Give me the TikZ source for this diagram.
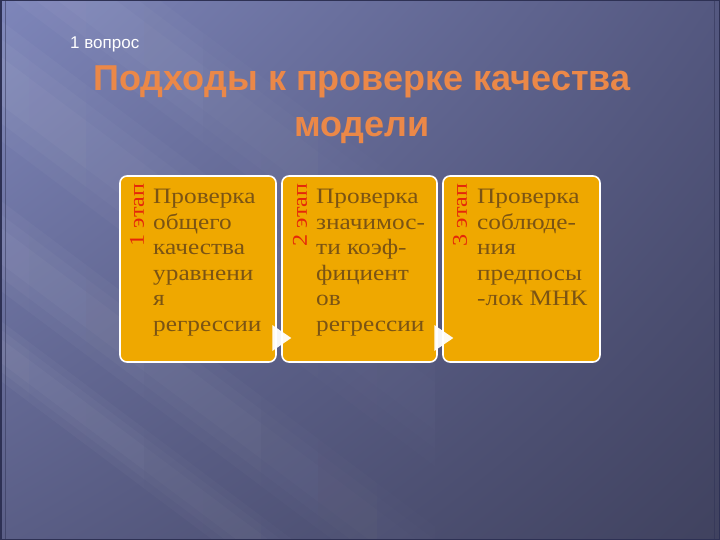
\documentclass[tikz,border=0pt]{standalone}
\usepackage{fontspec}
\setmainfont{Liberation Serif}
\newfontfamily\boxfont[FakeStretch=1.15]{Liberation Serif}
\newfontfamily\titlefont{Liberation Sans}
\usetikzlibrary{calc,fadings,shadings}
\tikzfading[name=fadeoutright, left color=transparent!0, right color=transparent!100]
\definecolor{bgUL}{HTML}{7E86BA}
\definecolor{bgUR}{HTML}{545880}
\definecolor{bgLL}{HTML}{5A5E86}
\definecolor{bgLR}{HTML}{40425F}
\definecolor{boxfill}{HTML}{EFA800}
\definecolor{textbrown}{HTML}{7B5414}
\definecolor{labelred}{HTML}{E5260A}
\definecolor{titleorange}{HTML}{EB8848}
\definecolor{frameline}{HTML}{2E3154}
\tikzset{
  stagebox/.style={draw=white, line width=1.6pt, fill=boxfill, rounded corners=7pt,
    minimum height=186pt, inner sep=0pt},
  stagelabel/.style={rotate=90, text=labelred, inner sep=0pt,
    font=\boxfont\fontsize{21}{21}\selectfont},
  stagetext/.style={anchor=north west, align=left, text=textbrown, inner sep=0pt,
    font=\boxfont\fontsize{22}{25.5}\selectfont},
  nextarrow/.style={fill=white, fill opacity=0.95, draw=none},
  titletext/.style={anchor=north, align=center, inner sep=0pt,
    font=\titlefont\bfseries\fontsize{36}{46}\selectfont},
  beam/.style={fill=white, fill opacity=0.035, path fading=fadeoutright}
}
% soft diagonal beam: start y on left edge, width, slope 0.75
\newcommand\softbeam[2]{%
  \foreach \w in {0.4,0.7,1.0}{%
    \fill[beam] (0,{#1+#2*(1-\w)/2}) -- (0,{#1+#2*(1+\w)/2})
      -- ++(520,390) -- ++(0,{-#2*\w}) -- cycle;
  }%
}
\begin{document}
\begin{tikzpicture}[x=1pt,y=-1pt]
\useasboundingbox (0,0) rectangle (720,540);
% background
\shade[upper left=bgUL, upper right=bgUR, lower left=bgLL, lower right=bgLR]
  (0,0) rectangle (720,540);
\begin{scope}
\clip (0,0) rectangle (720,540);
\softbeam{-120}{110}
\softbeam{20}{120}
\softbeam{200}{90}
\softbeam{320}{60}
\end{scope}
\draw[frameline, line width=1.5pt] (0.75,0.75) rectangle (719.25,539.25);
\draw[frameline, opacity=0.5, line width=0.8pt] (5,0) -- (5,540) (714,0) -- (714,540);

% header
\node[anchor=base west, inner sep=0pt, text=white,
  font=\titlefont\fontsize{17}{20}\selectfont] (question) at (70,49) {1 вопрос};
\node[titletext, text=titleorange] (title) at (362,66)
  {Подходы к проверке качества\\модели};

% stage boxes
\node[stagebox, minimum width=156pt] (box1) at (198,269) {};
\node[stagebox, minimum width=155pt] (box2) at (359.5,269) {};
\node[stagebox, minimum width=157pt] (box3) at (521.5,269) {};

\node[stagelabel] (lab1) at (137,215) {1 этап};
\node[stagelabel] (lab2) at (300,215) {2 этап};
\node[stagelabel] (lab3) at (460,215) {3 этап};

\node[stagetext] (txt1) at (153,189)
  {Проверка\\общего\\качества\\уравнени\\я\\регрессии};
\node[stagetext] (txt2) at (316,189)
  {Проверка\\значимос-\\ти коэф-\\фициент\\ов\\регрессии};
\node[stagetext] (txt3) at (477,189)
  {Проверка\\соблюде-\\ния\\предпосы\\-лок МНК};

% arrows between stages
\fill[nextarrow] ($(box1.east)+(-4.5,56)$) -- ++(0,26) -- ++(19,-13) -- cycle;
\fill[nextarrow] ($(box2.east)+(-3.5,56)$) -- ++(0,26) -- ++(19,-13) -- cycle;
\end{tikzpicture}
\end{document}
